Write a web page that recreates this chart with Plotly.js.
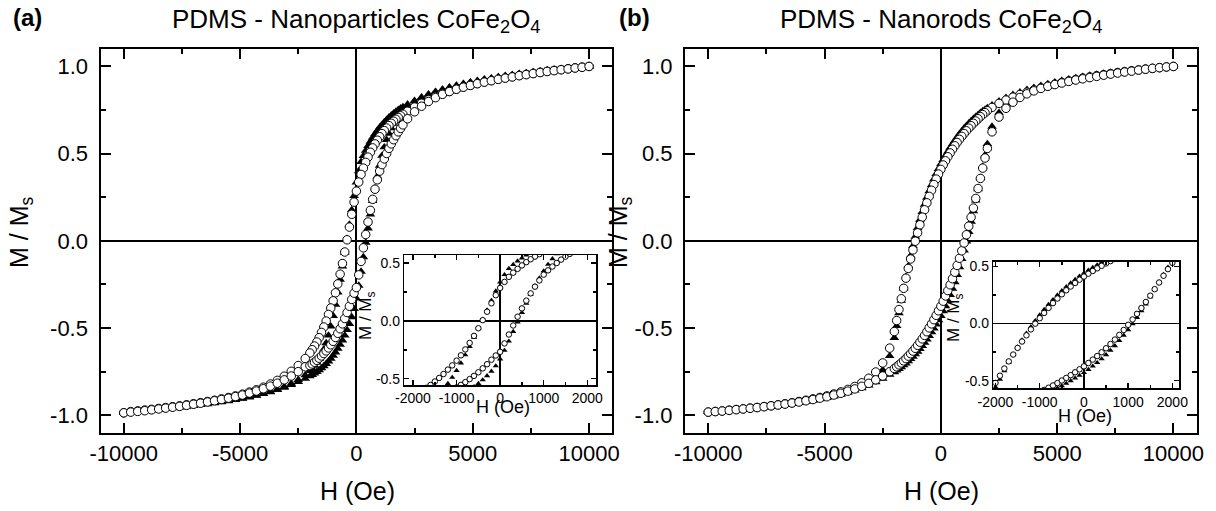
<!DOCTYPE html>
<html>
<head>
<meta charset="utf-8">
<script src="https://cdn.plot.ly/plotly-3.0.1.min.js"></script>
<style>html,body{margin:0;padding:0;background:#fff;}#chart{width:1216px;height:511px;}</style>
</head>
<body>
<div id="chart"></div>
<script>
// ---------- DATA ----------
// field values (Oe) for descending branch (+10000 -> -10000) and ascending branch (-10000 -> +10000)
const H_desc = [10000,9700,9400,9100,8800,8500,8200,7900,7600,7300,7000,6700,6400,6100,5800,5500,5200,4900,4600,4300,4000,3700,3400,3100,2800,2500,2200,
2000,1900,1800,1700,1600,1500,1400,1300,1200,1100,1000,900,800,700,600,500,400,300,200,100,0,-100,-200,-300,-400,-500,-600,-700,-800,-900,-1000,-1100,-1200,-1300,-1400,-1500,-1600,-1700,-1800,-1900,-2000,
-2200,-2500,-2800,-3100,-3400,-3700,-4000,-4300,-4600,-4900,-5200,-5500,-5800,-6100,-6400,-6700,-7000,-7300,-7600,-7900,-8200,-8500,-8800,-9100,-9400,-9700,-10000];
const H_asc = [-10000,-9700,-9400,-9100,-8800,-8500,-8200,-7900,-7600,-7300,-7000,-6700,-6400,-6100,-5800,-5500,-5200,-4900,-4600,-4300,-4000,-3700,-3400,-3100,-2800,-2500,-2200,
-2000,-1900,-1800,-1700,-1600,-1500,-1400,-1300,-1200,-1100,-1000,-900,-800,-700,-600,-500,-400,-300,-200,-100,0,100,200,300,400,500,600,700,800,900,1000,1100,1200,1300,1400,1500,1600,1700,1800,1900,2000,
2200,2500,2800,3100,3400,3700,4000,4300,4600,4900,5200,5500,5800,6100,6400,6700,7000,7300,7600,7900,8200,8500,8800,9100,9400,9700,10000];

// (a) PDMS - Nanoparticles : open circles / filled triangles, M/Ms
const a_circ_desc = [1.000,0.996,0.992,0.987,0.982,0.977,0.972,0.966,0.960,0.954,0.948,0.941,0.934,0.927,0.919,0.911,0.902,0.892,0.882,0.870,0.857,0.843,0.827,0.809,0.789,0.767,0.743,
0.726,0.717,0.707,0.697,0.686,0.674,0.661,0.647,0.632,0.615,0.597,0.577,0.556,0.533,0.508,0.480,0.450,0.417,0.381,0.337,0.285,
0.222,0.152,0.079,0.006,-0.064,-0.130,-0.191,-0.247,-0.298,-0.344,-0.385,-0.422,-0.460,-0.494,-0.525,-0.555,-0.580,-0.603,-0.624,-0.643,
-0.675,-0.715,-0.748,-0.776,-0.800,-0.821,-0.839,-0.854,-0.867,-0.879,-0.889,-0.898,-0.906,-0.914,-0.921,-0.928,-0.934,-0.940,-0.946,-0.951,-0.956,-0.961,-0.966,-0.970,-0.975,-0.979,-0.986];
const a_circ_asc = [-0.986,-0.982,-0.978,-0.974,-0.969,-0.964,-0.959,-0.954,-0.949,-0.943,-0.937,-0.931,-0.924,-0.917,-0.910,-0.902,-0.893,-0.884,-0.873,-0.861,-0.848,-0.833,-0.816,-0.797,-0.775,-0.750,-0.722,
-0.715,-0.706,-0.696,-0.685,-0.673,-0.660,-0.646,-0.631,-0.614,-0.596,-0.576,-0.554,-0.530,-0.504,-0.476,-0.445,-0.411,-0.375,-0.336,-0.300,-0.268,
-0.195,-0.118,-0.040,0.036,0.108,0.175,0.238,0.296,0.350,0.400,0.437,0.470,0.501,0.530,0.556,0.580,0.603,0.625,0.645,0.665,
0.700,0.740,0.772,0.799,0.821,0.840,0.856,0.869,0.881,0.891,0.901,0.910,0.918,0.926,0.933,0.940,0.947,0.953,0.959,0.965,0.971,0.976,0.981,0.986,0.991,0.995,1.000];
const a_tri_desc = [1.000,0.997,0.994,0.990,0.986,0.982,0.978,0.973,0.968,0.963,0.958,0.952,0.946,0.940,0.933,0.926,0.918,0.910,0.901,0.891,0.880,0.868,0.855,0.840,0.823,0.804,0.783,
0.768,0.760,0.751,0.741,0.731,0.720,0.708,0.695,0.681,0.666,0.650,0.632,0.613,0.592,0.569,0.544,0.517,0.487,0.453,0.400,0.335,
0.258,0.177,0.094,0.012,-0.068,-0.146,-0.222,-0.295,-0.365,-0.430,-0.490,-0.542,-0.586,-0.622,-0.652,-0.677,-0.698,-0.716,-0.732,-0.746,
-0.770,-0.797,-0.818,-0.836,-0.851,-0.864,-0.876,-0.886,-0.895,-0.903,-0.910,-0.917,-0.923,-0.929,-0.934,-0.939,-0.944,-0.948,-0.953,-0.957,-0.961,-0.965,-0.969,-0.972,-0.976,-0.979,-0.983];
const a_tri_asc = [-0.983,-0.980,-0.977,-0.974,-0.970,-0.967,-0.963,-0.959,-0.955,-0.951,-0.946,-0.941,-0.936,-0.931,-0.925,-0.919,-0.912,-0.905,-0.897,-0.888,-0.878,-0.867,-0.855,-0.841,-0.826,-0.809,-0.790,
-0.776,-0.768,-0.760,-0.751,-0.741,-0.730,-0.718,-0.705,-0.691,-0.675,-0.658,-0.639,-0.618,-0.595,-0.570,-0.542,-0.511,-0.476,-0.437,-0.390,-0.330,
-0.256,-0.176,-0.093,-0.010,0.072,0.152,0.229,0.302,0.370,0.432,0.488,0.537,0.579,0.615,0.646,0.672,0.695,0.715,0.733,0.749,
0.776,0.800,0.820,0.838,0.853,0.866,0.878,0.889,0.899,0.908,0.916,0.924,0.931,0.938,0.944,0.950,0.956,0.961,0.966,0.971,0.976,0.980,0.985,0.989,0.993,0.997,1.000];

// (b) PDMS - Nanorods
const b_circ_desc = [1.000,0.997,0.993,0.989,0.985,0.980,0.975,0.970,0.965,0.959,0.953,0.947,0.940,0.933,0.925,0.917,0.908,0.898,0.888,0.877,0.865,0.852,0.839,0.824,0.807,0.788,0.765,
0.746,0.735,0.724,0.712,0.700,0.687,0.674,0.660,0.646,0.631,0.615,0.599,0.582,0.564,0.545,0.525,0.504,0.482,0.459,0.435,0.410,
0.383,0.354,0.323,0.290,0.255,0.218,0.178,0.136,0.092,0.046,-0.002,-0.052,-0.104,-0.158,-0.214,-0.272,-0.332,-0.394,-0.457,-0.520,
-0.615,-0.700,-0.752,-0.788,-0.814,-0.835,-0.852,-0.866,-0.878,-0.889,-0.898,-0.906,-0.914,-0.921,-0.928,-0.934,-0.940,-0.945,-0.950,-0.955,-0.959,-0.963,-0.967,-0.971,-0.975,-0.978,-0.982];
const b_circ_asc = [-0.982,-0.979,-0.976,-0.972,-0.968,-0.964,-0.960,-0.956,-0.951,-0.946,-0.941,-0.936,-0.930,-0.924,-0.917,-0.910,-0.902,-0.894,-0.884,-0.874,-0.862,-0.849,-0.834,-0.817,-0.797,-0.775,-0.750,
-0.732,-0.722,-0.711,-0.700,-0.688,-0.675,-0.661,-0.647,-0.632,-0.616,-0.599,-0.581,-0.562,-0.542,-0.521,-0.499,-0.476,-0.452,-0.427,-0.401,-0.375,
-0.346,-0.316,-0.285,-0.252,-0.217,-0.180,-0.141,-0.100,-0.057,-0.012,0.035,0.084,0.135,0.188,0.243,0.300,0.358,0.417,0.475,0.530,
0.625,0.710,0.760,0.795,0.822,0.843,0.860,0.874,0.886,0.896,0.905,0.914,0.922,0.929,0.936,0.943,0.950,0.956,0.962,0.968,0.973,0.979,0.984,0.989,0.993,0.997,1.000];
const b_tri_desc = [1.000,0.998,0.995,0.992,0.988,0.984,0.980,0.975,0.970,0.965,0.960,0.954,0.948,0.941,0.934,0.926,0.918,0.909,0.899,0.889,0.878,0.866,0.852,0.837,0.820,0.800,0.778,
0.762,0.753,0.744,0.734,0.723,0.712,0.700,0.687,0.674,0.660,0.645,0.629,0.612,0.594,0.575,0.555,0.534,0.512,0.489,0.465,0.440,
0.413,0.384,0.353,0.320,0.285,0.248,0.208,0.166,0.121,0.074,0.024,-0.029,-0.085,-0.144,-0.206,-0.272,-0.342,-0.415,-0.488,-0.556,
-0.660,-0.740,-0.781,-0.809,-0.831,-0.849,-0.864,-0.877,-0.888,-0.898,-0.906,-0.914,-0.921,-0.927,-0.933,-0.939,-0.944,-0.949,-0.953,-0.957,-0.961,-0.965,-0.968,-0.972,-0.975,-0.978,-0.981];
const b_tri_asc = [-0.981,-0.979,-0.976,-0.973,-0.970,-0.966,-0.962,-0.958,-0.954,-0.949,-0.945,-0.940,-0.934,-0.928,-0.922,-0.915,-0.908,-0.900,-0.891,-0.881,-0.870,-0.858,-0.844,-0.828,-0.810,-0.790,-0.767,
-0.752,-0.743,-0.734,-0.724,-0.713,-0.702,-0.690,-0.677,-0.664,-0.650,-0.635,-0.619,-0.602,-0.584,-0.565,-0.545,-0.524,-0.502,-0.479,-0.455,-0.430,
-0.403,-0.374,-0.343,-0.310,-0.274,-0.236,-0.195,-0.151,-0.104,-0.055,-0.003,0.052,0.110,0.170,0.232,0.296,0.361,0.427,0.492,0.556,
0.655,0.735,0.779,0.810,0.834,0.853,0.869,0.882,0.894,0.904,0.913,0.921,0.929,0.936,0.943,0.949,0.955,0.961,0.966,0.971,0.976,0.981,0.986,0.990,0.994,0.997,1.000];

// tick labels
const mainXTicks = [-10000,-5000,0,5000,10000];
const mainXLabels = ['-10000','-5000','0','5000','10000'];
const mainYTicks = [-1,-0.5,0,0.5,1];
const mainYLabels = ['-1.0','-0.5','0.0','0.5','1.0'];
const insetXTicks = [-2000,-1000,0,1000,2000];
const insetXLabels = ['-2000','-1000','0','1000','2000'];
const insetYTicks = [-0.5,0,0.5];
const insetYLabels = ['-0.5','0.0','0.5'];

// text
const titleA = 'PDMS - Nanoparticles CoFe<sub>2</sub>O<sub>4</sub>';
const titleB = 'PDMS - Nanorods CoFe<sub>2</sub>O<sub>4</sub>';
const xTitle = 'H (Oe)';
const yTitle = 'M / M<sub>s</sub>';

// ---------- DRAWING ----------
const FONT = 'Liberation Sans, Arial, sans-serif';
const W = 1216, HH = 511;
const px = v => v / W;
const py = v => (HH - v) / HH;
const NB = '\u00A0';

function tri(x, y, xa, ya, size) {
  return {x, y, xaxis: xa, yaxis: ya, type: 'scatter', mode: 'markers', hoverinfo: 'skip', showlegend: false,
    marker: {symbol: 'triangle-up', size: size, color: 'black', line: {width: 0}}};
}
function circ(x, y, xa, ya, size) {
  return {x, y, xaxis: xa, yaxis: ya, type: 'scatter', mode: 'markers', hoverinfo: 'skip', showlegend: false,
    marker: {symbol: 'circle', size: size, color: 'white', line: {color: 'black', width: 1}}};
}

const MS = 8.5, IS = 5.5;
const traces = [
  tri(H_desc, a_tri_desc, 'x', 'y', MS), tri(H_asc, a_tri_asc, 'x', 'y', MS),
  circ(H_desc, a_circ_desc, 'x', 'y', MS), circ(H_asc, a_circ_asc, 'x', 'y', MS),
  tri(H_desc, b_tri_desc, 'x2', 'y2', MS), tri(H_asc, b_tri_asc, 'x2', 'y2', MS),
  circ(H_desc, b_circ_desc, 'x2', 'y2', MS), circ(H_asc, b_circ_asc, 'x2', 'y2', MS),
  tri(H_desc, a_tri_desc, 'x3', 'y3', IS), tri(H_asc, a_tri_asc, 'x3', 'y3', IS),
  circ(H_desc, a_circ_desc, 'x3', 'y3', IS), circ(H_asc, a_circ_asc, 'x3', 'y3', IS),
  tri(H_desc, b_tri_desc, 'x4', 'y4', IS), tri(H_asc, b_tri_asc, 'x4', 'y4', IS),
  circ(H_desc, b_circ_desc, 'x4', 'y4', IS), circ(H_asc, b_circ_asc, 'x4', 'y4', IS)
];

function axis(o) {
  const big = o.big;
  return {
    domain: o.domain, range: o.range, anchor: o.anchor, fixedrange: true,
    tickmode: 'array', tickvals: o.tv, ticktext: o.tt,
    ticks: 'inside', ticklen: big ? 10 : 5, tickwidth: big ? 2 : 1.5, tickcolor: 'black',
    showline: true, linewidth: big ? 2 : 1.5, linecolor: 'black', mirror: 'ticks',
    showgrid: false, zeroline: true, zerolinecolor: 'black', zerolinewidth: big ? 2 : 1.5,
    minor: {ticks: 'inside', ticklen: big ? 5 : 3, tickwidth: big ? 2 : 1.5, tickcolor: 'black',
      tickmode: 'linear', tick0: 0, dtick: o.minor, showgrid: false},
    tickfont: {family: FONT, size: big ? 22 : 14, color: 'black'}
  };
}

function ann(text, x, y, size, extra) {
  return Object.assign({text, x: px(x), y: py(y), xref: 'paper', yref: 'paper', xanchor: 'center', yanchor: 'middle',
    showarrow: false, font: {family: FONT, size, color: 'black'}}, extra || {});
}

// y tick labels padded with one no-break space to sit further from the axis, as in the original
const mainYText = mainYLabels.map(s => s + NB);

const layout = {
  width: W, height: HH, margin: {l: 0, r: 0, t: 0, b: 0},
  paper_bgcolor: 'white', plot_bgcolor: 'white', showlegend: false,
  font: {family: FONT, color: 'black'},
  xaxis: axis({big: true, domain: [px(100.5), px(612.3)], range: [-11000, 11000], anchor: 'y', tv: mainXTicks, tt: mainXLabels, minor: 2500}),
  yaxis: axis({big: true, domain: [py(432.7), py(49)], range: [-1.1, 1.1], anchor: 'x', tv: mainYTicks, tt: mainYText, minor: 0.25}),
  xaxis2: axis({big: true, domain: [px(685), px(1196.7)], range: [-11000, 11000], anchor: 'y2', tv: mainXTicks, tt: mainXLabels, minor: 2500}),
  yaxis2: axis({big: true, domain: [py(432.7), py(49)], range: [-1.1, 1.1], anchor: 'x2', tv: mainYTicks, tt: mainYText, minor: 0.25}),
  xaxis3: axis({big: false, domain: [px(404.3), px(596)], range: [-2200, 2200], anchor: 'y3', tv: insetXTicks, tt: insetXLabels, minor: 500}),
  yaxis3: axis({big: false, domain: [py(385), py(255)], range: [-0.555, 0.57], anchor: 'x3', tv: insetYTicks, tt: insetYLabels, minor: 0.25}),
  xaxis4: axis({big: false, domain: [px(993.3), px(1179)], range: [-2050, 2150], anchor: 'y4', tv: insetXTicks, tt: insetXLabels, minor: 500}),
  yaxis4: axis({big: false, domain: [py(388.3), py(261.7)], range: [-0.567, 0.54], anchor: 'x4', tv: insetYTicks, tt: insetYLabels, minor: 0.25}),
  annotations: [
    ann('<b>(a)</b>', 27, 17, 24),
    ann('<b>(b)</b>', 634, 17, 24),
    ann(titleA, 356, 20, 26),
    ann(titleB, 941, 20, 26),
    ann(xTitle, 357, 491, 25),
    ann(xTitle, 941, 491, 25),
    ann(yTitle, 21, 232, 25, {textangle: -90}),
    ann(yTitle, 620, 232, 25, {textangle: -90}),
    ann(xTitle, 503, 407, 18),
    ann(xTitle, 1085, 416, 18),
    ann(yTitle, 367, 315, 17, {textangle: -90}),
    ann(yTitle, 955, 318, 17, {textangle: -90})
  ]
};

Plotly.newPlot('chart', traces, layout, {displayModeBar: false, staticPlot: true});
</script>
</body>
</html>
